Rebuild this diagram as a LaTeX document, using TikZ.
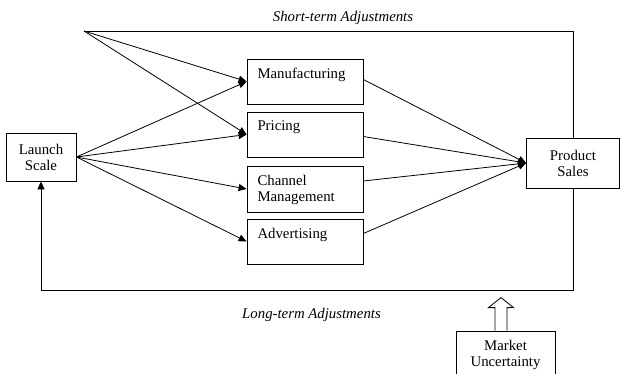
\documentclass[tikz,border=0pt]{standalone}
\usepackage{fontspec}
\setmainfont{Liberation Serif}
\usetikzlibrary{arrows.meta}
\begin{document}
\begin{tikzpicture}[x=1pt, y=1pt, line width=0.8pt,
    >={Triangle[length=8pt, width=7pt]},
    every node/.style={font=\fontsize{14.8}{16}\selectfont},
    box/.style={draw, inner sep=0pt},
    boxlabel/.style={anchor=north west, align=left, inner xsep=10.5pt, inner ysep=9pt},
    note/.style={font=\fontsize{14.8}{16}\selectfont\itshape}]
    \useasboundingbox (0,0) rectangle (620,373);

    % Kasten
    \node[box, minimum width=70pt, minimum height=48pt, align=center] (launch) at (41,216) {Launch\\Scale};
    \node[box, minimum width=116pt, minimum height=45pt, label={[boxlabel]north west:Manufacturing}] (manuf) at (305,291.5) {};
    \node[box, minimum width=116pt, minimum height=45pt, label={[boxlabel]north west:Pricing}] (pricing) at (305,238.5) {};
    \node[box, minimum width=116pt, minimum height=46pt, label={[boxlabel]north west:Channel\\Management}] (channel) at (305,184) {};
    \node[box, minimum width=116pt, minimum height=45pt, label={[boxlabel]north west:Advertising}] (adv) at (305,131.5) {};
    \node[box, minimum width=93pt, minimum height=50pt, align=center] (sales) at (573,210) {Product\\Sales};
    \node[box, minimum width=99pt, minimum height=50pt,
        label={[anchor=north, align=center, inner ysep=9pt]north:Market\\Uncertainty}] (market) at (505.5,17) {};

    % Rueckkopplungen
    \coordinate (st) at (84,342);
    \coordinate (lt) at (41,83);
    \draw (sales.north) |- (st);
    \draw[->] (sales.south) |- (lt) -- (launch.south);

    % Pfeile
    \foreach \t in {manuf, pricing}
        \draw[->] (st) -- (\t.west);
    \foreach \t in {manuf, pricing, channel, adv}
        \draw[->] (launch.east) -- (\t.west);
    \foreach \t/\s in {manuf/2, pricing/-2, channel/8, adv/8}
        \draw[->] ([yshift=\s pt]\t.east) -- (sales.west);

    % Hohlpfeil
    \draw[line join=miter] (market.north) ++(-10.5,0) -- ++(0,23) -- ++(-6.5,0) -- ++(12.5,10)
        -- ++(12.5,-10) -- ++(-6.5,0) -- ++(0,-23);

    % Beschriftungen
    \node[note] (shortlbl) at (343,355.5) {Short-term Adjustments};
    \node[note] (longlbl) at (311.5,58.5) {Long-term Adjustments};
\end{tikzpicture}
\end{document}
